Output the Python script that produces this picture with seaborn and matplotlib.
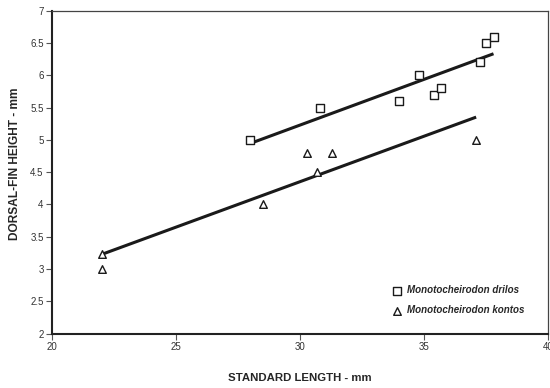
import numpy as np
import pandas as pd
import seaborn as sns
import matplotlib.pyplot as plt

# data
drilos_sl = [28.0, 30.8, 34.0, 34.8, 35.4, 35.7, 37.25, 37.5, 37.8]
drilos_dfh = [5.0, 5.5, 5.6, 6.0, 5.7, 5.8, 6.2, 6.5, 6.6]
kontos_sl = [22.0, 22.0, 28.5, 30.3, 31.3, 30.7, 37.1]
kontos_dfh = [3.23, 3.0, 4.0, 4.8, 4.8, 4.5, 5.0]

drilos = pd.DataFrame({'sl': drilos_sl, 'dfh': drilos_dfh})
kontos = pd.DataFrame({'sl': kontos_sl, 'dfh': kontos_dfh})

sns.set_style('white')
plt.rcParams['font.family'] = ['Liberation Sans', 'DejaVu Sans']

fig = plt.figure(figsize=(5.5, 3.88), dpi=100)
ax = fig.add_axes([0.0945, 0.14, 0.902, 0.8325])

#regression lines
line_kws = {'color': '#1a1a1a', 'lw': 2.2, 'solid_capstyle': 'butt'}
sns.regplot(data=drilos, x='sl', y='dfh', ax=ax, scatter=False, ci=None,
            truncate=True, line_kws=line_kws)
sns.regplot(data=kontos, x='sl', y='dfh', ax=ax, scatter=False, ci=None,
            truncate=True, line_kws=line_kws)

#points
sns.scatterplot(data=drilos, x='sl', y='dfh', ax=ax, marker='s', s=28,
                facecolor='white', edgecolor='#1a1a1a', linewidth=1.0,
                label='Monotocheirodon drilos', zorder=3)
sns.scatterplot(data=kontos, x='sl', y='dfh', ax=ax, marker='^', s=30,
                facecolor='white', edgecolor='#1a1a1a', linewidth=1.0,
                label='Monotocheirodon kontos', zorder=3)

ax.set_xlim(20, 40)
ax.set_ylim(2, 7)
ax.set_xticks([20, 25, 30, 35, 40])
ax.set_xticklabels(['20', '25', '30', '35', '40'])
ax.set_yticks([2, 2.5, 3, 3.5, 4, 4.5, 5, 5.5, 6, 6.5, 7])
ax.set_yticklabels(['2', '2.5', '3', '3.5', '4', '4.5', '5', '5.5', '6', '6.5', '7'])
ax.tick_params(axis='both', direction='out', length=4, width=0.8,
               color='#555555', labelsize=7, labelcolor='#333333', pad=2,
               left=True, bottom=True)

for side in ['left', 'bottom']:
    ax.spines[side].set_linewidth(1.5)
    ax.spines[side].set_color('#222222')
for side in ['top', 'right']:
    ax.spines[side].set_linewidth(0.9)
    ax.spines[side].set_color('#444444')

ax.set_xlabel('STANDARD LENGTH - mm', fontsize=8.2, fontweight='bold',
              labelpad=15)
ax.set_ylabel('DORSAL-FIN HEIGHT - mm', fontsize=8.6, fontweight='bold',
              va='center')
ax.yaxis.set_label_coords(-0.075, 0.527)

leg = ax.legend(loc='upper left', bbox_to_anchor=(0.685, 0.15), frameon=False,
                prop={'size': 7, 'weight': 'bold', 'style': 'italic'},
                borderpad=0, borderaxespad=0, handletextpad=0.6,
                labelspacing=1.05, handlelength=1.0)

fig.savefig('out.png', dpi=100)
